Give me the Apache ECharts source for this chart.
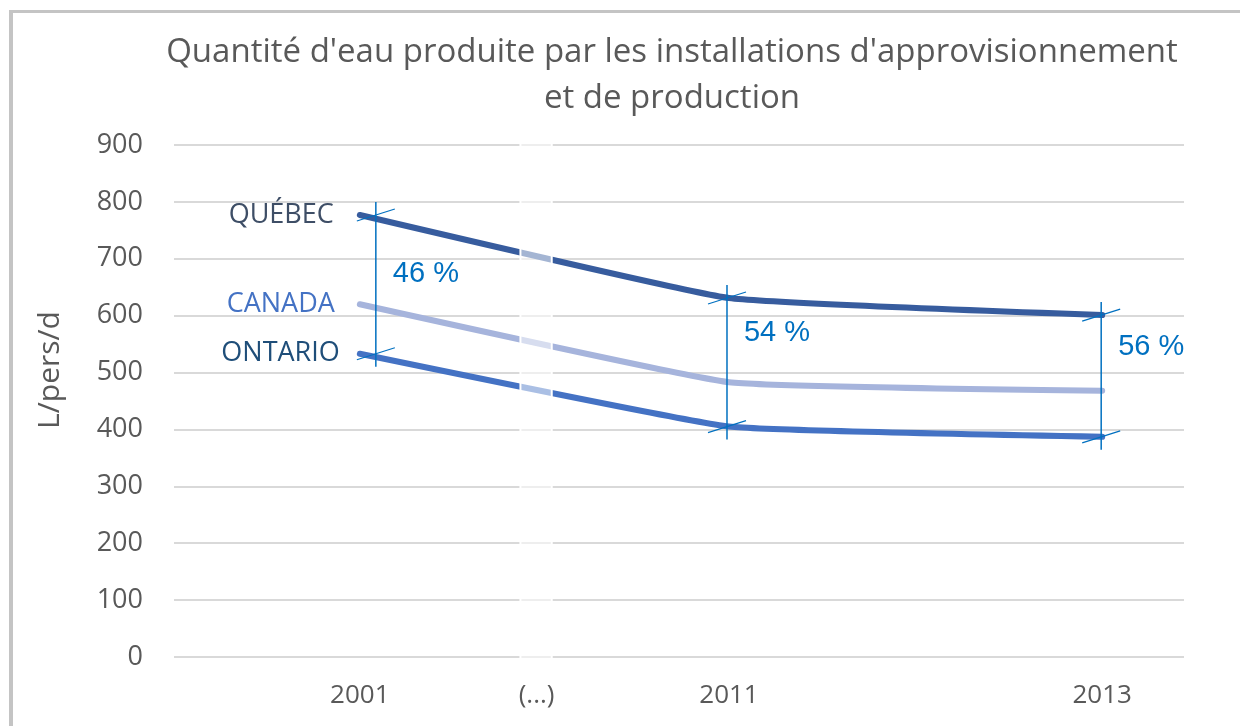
<!DOCTYPE html>
<html>
<head>
	<meta charset="utf-8">
	<title>Quantité d'eau produite</title>
	<script src="https://cdn.jsdelivr.net/npm/echarts@6/dist/echarts.min.js"></script>
    <style>
        html, body { margin: 0; padding: 0; background: #fff; }
        #echarts { width: 1240px; height: 726px; }
    </style>
</head>
<body>
	<div id="echarts"></div>
	<script>
    // data
    var years = ['2001', '2011', '2013'];
    var quebec = [777, 631, 601];
    var canada = [620, 483, 468];
    var ontario = [533, 405, 387];
    var gapLabels = ['46 %', '54 %', '56 %'];
    var xLabels = ['2001', '(...)', '2011', '2013'];

    // layout: where each year sits along the (unevenly spaced) x axis, 0..100
    var xPos = { '2001': 18.4, '(...)': 35.9, '2011': 54.95, '2013': 91.9 };
    var breakBand = [34.3, 37.4];
    var gapLineDx = [16, -2, -1];
    var gapLabelDy = [59, 35, 32];

    var fontSans = '"Open Sans", "Noto Sans", sans-serif';
    var grey = '#595959';

    function pts(values) {
        return values.map(function (v, i) { return [xPos[years[i]], v]; });
    }
    function withFirstLabel(values, text, color, dist) {
        var d = pts(values);
        d[0] = {
            value: d[0],
            label: {
                show: true, position: 'left', distance: dist, formatter: text,
                color: color, fontSize: 27, fontFamily: fontSans
            }
        };
        return d;
    }

    var myChart = echarts.init(document.getElementById('echarts'));
    var option = {
        animation: false,
        title: {
            text: "Quantité d'eau produite par les installations d'approvisionnement\net de production",
            left: 667,
            top: 25,
            textAlign: 'center',
            textStyle: { fontFamily: fontSans, fontSize: 33, fontWeight: 'normal', color: grey, lineHeight: 46 }
        },
        graphic: [
            { type: 'rect', shape: { x: 9, y: 10, width: 1231, height: 3 }, style: { fill: '#c4c4c4' } },
            { type: 'rect', shape: { x: 9, y: 10, width: 4, height: 716 }, style: { fill: '#c4c4c4' } },
            {
                type: 'text', x: 50, y: 370, rotation: Math.PI / 2,
                style: { text: 'L/pers/d', fontFamily: fontSans, fontSize: 30, fill: grey, align: 'center', verticalAlign: 'middle' }
            }
        ],
        grid: { left: 174, right: 56, top: 145, bottom: 69 },
        xAxis: {
            type: 'value',
            min: 0,
            max: 100,
            axisLine: { show: false },
            axisTick: { show: false },
            splitLine: { show: false },
            axisLabel: {
                customValues: xLabels.map(function (l) { return xPos[l]; }),
                formatter: function (v) {
                    for (var i = 0; i < xLabels.length; i++) {
                        if (Math.abs(xPos[xLabels[i]] - v) < 0.01) return xLabels[i];
                    }
                    return '';
                },
                hideOverlap: false,
                margin: 26,
                fontSize: 26,
                fontFamily: fontSans,
                color: grey
            }
        },
        yAxis: {
            type: 'value',
            min: 0,
            max: 900,
            interval: 100,
            axisLine: { show: false },
            axisTick: { show: false },
            splitLine: { lineStyle: { color: '#d9d9d9', width: 2 } },
            axisLabel: { margin: 31, fontSize: 27, fontFamily: fontSans, color: grey }
        },
        series: [
            {
                name: 'QUÉBEC', type: 'line', smooth: 0.1, symbol: 'circle', symbolSize: 0.1,
                lineStyle: { color: '#375c9e', width: 6, cap: 'round' }, itemStyle: { color: '#375c9e' },
                data: withFirstLabel(quebec, 'QUÉBEC', '#3e4e66', 26)
            },
            {
                name: 'CANADA', type: 'line', smooth: 0.1, symbol: 'circle', symbolSize: 0.1,
                lineStyle: { color: '#a6b4dc', width: 6, cap: 'round' }, itemStyle: { color: '#a6b4dc' },
                data: withFirstLabel(canada, 'CANADA', '#4472c4', 25)
            },
            {
                name: 'ONTARIO', type: 'line', smooth: 0.1, symbol: 'circle', symbolSize: 0.1,
                lineStyle: { color: '#4472c4', width: 6, cap: 'round' }, itemStyle: { color: '#4472c4' },
                data: withFirstLabel(ontario, 'ONTARIO', '#1f4e79', 20)
            },
            {
                // break in the time axis
                type: 'custom', z: 10, silent: true,
                data: [[breakBand[0], breakBand[1]]],
                renderItem: function (params, api) {
                    var a = api.coord([api.value(0), 900]);
                    var b = api.coord([api.value(1), 0]);
                    return {
                        type: 'group',
                        children: [
                            { type: 'rect', shape: { x: a[0], y: a[1] - 2, width: b[0] - a[0], height: b[1] - a[1] + 4 }, style: { fill: 'rgba(255,255,255,0.55)' } },
                            { type: 'line', shape: { x1: a[0], y1: a[1] - 2, x2: a[0], y2: b[1] + 2 }, style: { stroke: '#fff', lineWidth: 2 } },
                            { type: 'line', shape: { x1: b[0], y1: a[1] - 2, x2: b[0], y2: b[1] + 2 }, style: { stroke: '#fff', lineWidth: 2 } }
                        ]
                    };
                }
            },
            {
                // gap between Québec and Ontario
                type: 'custom', z: 11, silent: true,
                data: years.map(function (y, i) { return [xPos[y], quebec[i], ontario[i], i]; }),
                renderItem: function (params, api) {
                    var i = api.value(3);
                    var top = api.coord([api.value(0), api.value(1)]);
                    var bot = api.coord([api.value(0), api.value(2)]);
                    var x = top[0] + gapLineDx[i];
                    var blue = '#0070c0';
                    return {
                        type: 'group',
                        children: [
                            { type: 'line', shape: { x1: x, y1: top[1] - 13, x2: x, y2: bot[1] + 13 }, style: { stroke: blue, lineWidth: 1.5 } },
                            { type: 'line', shape: { x1: x - 19, y1: top[1] + 6, x2: x + 19, y2: top[1] - 6 }, style: { stroke: blue, lineWidth: 1.2 } },
                            { type: 'line', shape: { x1: x - 19, y1: bot[1] + 6, x2: x + 19, y2: bot[1] - 6 }, style: { stroke: blue, lineWidth: 1.2 } },
                            {
                                type: 'text', x: x + 17, y: top[1] + gapLabelDy[i],
                                style: { text: gapLabels[i], fill: blue, fontSize: 29, fontFamily: '"Liberation Sans", Arial, sans-serif', verticalAlign: 'middle' }
                            }
                        ]
                    };
                }
            }
        ]
    };
    myChart.setOption(option);
	</script>
</body>
</html>
